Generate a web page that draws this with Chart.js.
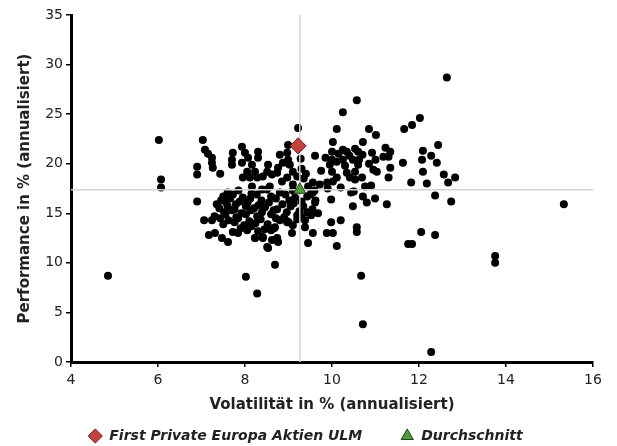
<!DOCTYPE html>
<html>
<head>
<meta charset="utf-8">
<script src="https://cdn.jsdelivr.net/npm/chart.js@4/dist/chart.umd.min.js"></script>
<style>
html, body { margin: 0; padding: 0; background: #fff; }
#wrap { width: 617px; height: 446px; }
</style>
</head>
<body>
<div id="wrap"><canvas id="scatterChart"></canvas></div>
<script>
var xTitle = 'Volatilität in % (annualisiert)';
var yTitle = 'Performance in % (annualisiert)';
var fundName = 'First Private Europa Aktien ULM';
var avgName = 'Durchschnitt';

// volatility / performance of the peer funds
var peerX = [
	4.85, 6.02, 6.07, 6.07, 6.9, 6.9, 6.9, 7.03, 7.08, 7.15, 7.24, 7.24, 7.26, 7.43,
	7.06, 7.24, 7.43, 7.17, 7.31, 7.47, 7.61, 7.72, 7.84, 8.05, 8.23, 8.41, 8.51, 8.69, 8.76, 8.97, 9.08, 9.38, 9.45,
	8.02, 8.28, 8.69,
	9.56, 9.88, 10.02, 9.98, 10.2, 10.11, 10.57, 10.67, 10.71, 11.75, 11.84, 12.05, 12.37, 12.28, 13.75, 13.75,
	12.64, 10.57, 10.25, 11.66, 11.84, 12.02, 10.11, 10.85, 11.01, 12.44, 10.02, 10.71, 12.09, 12.28, 12.41, 11.63,
	12.07, 12.09, 12.57, 12.83, 12.67, 12.18, 11.82, 12.37, 12.74, 15.33, 9.61,
	10.0, 10.0, 10.25, 10.34, 10.53, 10.6, 10.62, 10.48, 10.25, 10.11,
	10.92, 11.0, 11.23, 11.34, 11.3, 11.18, 10.95, 11.03, 11.34, 11.3,
	9.95, 10.0, 10.11, 10.34, 10.41, 10.53, 10.53, 10.69, 10.76,
	10.02, 9.89, 9.72, 9.56, 9.45, 9.56, 9.61, 9.43, 9.34, 9.43, 9.38,
	10.44, 9.98, 10.48, 10.71, 10.8, 10.99, 11.26, 10.57,
	9.85, 10.15, 10.4, 10.7, 10.3, 10.6, 10.85, 9.75, 9.9, 10.2, 10.5, 10.9,
	7.93, 7.72, 8.0, 7.7, 8.07, 8.3, 8.3, 7.7, 7.93, 8.16, 8.23, 8.53, 8.8, 8.97, 8.99, 8.87, 9.03,
	8.76, 8.74, 8.62, 8.51, 8.41, 8.05, 7.95, 8.11, 8.28, 9.1, 9.2, 8.97, 8.85, 9.1, 8.57, 8.39, 8.16,
	7.6, 7.85, 8.15, 8.5, 8.8, 9.1,
	7.5, 7.72, 7.95, 8.27, 8.6, 8.93, 9.15,
	7.45, 7.66, 7.88, 8.12, 8.38, 8.71, 9.02,
	7.35, 7.57, 7.79, 8.06, 8.31, 8.55, 8.86, 9.12,
	7.41, 7.6, 7.76, 8.02, 8.21, 8.46, 8.74, 9.05,
	7.52, 7.7, 7.92, 8.14, 8.39, 8.66, 8.96,
	7.3, 7.55, 7.8, 8.02, 8.28, 8.6, 8.9, 9.2,
	7.62, 7.84, 8.1, 8.36, 8.8,
	7.5, 7.76, 7.98, 8.24, 8.52, 9.0,
	7.9, 8.15, 8.45, 8.3, 8.6,
	9.3, 9.35, 9.3, 9.25, 9.3, 9.4, 9.1, 9.2,
	8.71, 8.67, 8.97, 8.53, 8.23, 8.41, 8.62, 8.74,
	9.5, 9.62, 9.55, 9.68, 9.52, 9.6, 9.28, 9.0, 8.99, 9.22
];
var peerY = [
	8.7, 22.4, 18.4, 17.6, 19.7, 18.9, 16.2, 22.4, 21.4, 21.0, 20.6, 20.1, 19.6, 19.0,
	14.3, 14.3, 14.5, 12.8, 13.0, 12.5, 12.1, 13.1, 13.0, 13.3, 12.5, 12.5, 11.6, 13.6, 12.1, 14.1, 13.0, 13.6, 12.0,
	8.6, 6.9, 9.8,
	13.0, 13.0, 13.0, 14.1, 14.3, 11.7, 13.1, 8.7, 3.8, 11.9, 11.9, 13.1, 12.8, 1.0, 10.7, 10.0,
	28.7, 26.4, 25.2, 23.5, 23.9, 24.6, 23.5, 23.5, 22.9, 21.9, 22.2, 22.2, 21.3, 20.8, 20.1, 20.1,
	20.4, 19.2, 18.9, 18.6, 18.1, 18.0, 18.1, 16.8, 16.2, 15.9, 20.8,
	21.2, 20.4, 21.4, 21.2, 21.5, 21.2, 20.4, 20.4, 20.4, 20.2,
	21.1, 20.4, 21.6, 21.2, 20.7, 20.7, 19.4, 19.2, 19.6, 18.6,
	19.9, 19.2, 18.6, 19.1, 18.6, 19.2, 18.4, 18.6, 17.7,
	18.2, 18.1, 17.9, 18.1, 17.7, 17.1, 16.1, 16.7, 15.7, 15.1, 14.3,
	17.1, 16.4, 15.7, 16.7, 16.1, 16.5, 15.9, 13.6,
	20.6, 21.0, 20.8, 20.9, 19.8, 19.9, 20.0, 19.3, 17.5, 17.6, 17.2, 17.8,
	21.7, 21.1, 21.1, 20.4, 20.6, 21.2, 20.6, 19.9, 20.1, 19.9, 19.2, 19.9, 20.9, 21.1, 20.4, 20.1, 19.9,
	19.6, 19.1, 18.9, 19.2, 18.7, 19.2, 18.6, 18.6, 18.6, 19.2, 18.7, 18.6, 18.2, 17.9, 17.7, 17.4, 17.7,
	17.1, 17.3, 17.0, 17.4, 17.1, 17.3,
	16.7, 16.9, 16.6, 16.9, 16.7, 16.9, 16.6,
	16.3, 16.5, 16.2, 16.5, 16.3, 16.5, 16.3,
	15.9, 16.1, 15.9, 16.1, 15.8, 16.1, 15.9, 16.0,
	15.5, 15.7, 15.4, 15.7, 15.5, 15.6, 15.4, 15.7,
	15.1, 15.3, 15.0, 15.3, 15.1, 15.3, 15.1,
	14.7, 14.9, 14.6, 14.9, 14.7, 14.9, 14.6, 14.8,
	14.3, 14.5, 14.2, 14.4, 14.3,
	13.9, 14.1, 13.8, 14.0, 13.9, 14.1,
	13.5, 13.7, 13.4, 13.2, 13.3,
	19.5, 18.5, 16.2, 15.2, 14.6, 19.0, 13.8, 14.4,
	14.5, 13.5, 14.2, 11.5, 12.5, 12.6, 12.3, 12.5,
	16.9, 16.3, 15.4, 15.0, 14.8, 17.3, 20.5, 20.0, 21.9, 23.6
];

var fundX = [9.22];
var fundY = [21.8];
var avgX = [9.26];
var avgY = [17.37];

var xMin = 4, xMax = 16, xStep = 2;
var yMin = 0, yMax = 35, yStep = 5;

function toPoints(xs, ys) {
	var pts = [];
	for (var i = 0; i < xs.length; i++) {
		pts.push({x: xs[i], y: ys[i]});
	}
	return pts;
}

var tickFont = {family: 'DejaVu Sans', size: 14};
var titleFont = {family: 'DejaVu Sans', size: 15, weight: 'bold'};

// move the legend a little to the right, it is centred on the whole page in the original
var legendShift = {
	id: 'legendShift',
	afterLayout: function(chart) {
		chart.legend.left += 9;
		chart.legend.right += 9;
	}
};

var ctx = document.getElementById('scatterChart').getContext('2d');

var scatterChart = new Chart(ctx, {
	type: 'scatter',
	data: {
		datasets: [
			{
				label: fundName,
				data: toPoints(fundX, fundY),
				pointStyle: 'rectRot',
				pointRadius: 8,
				pointHoverRadius: 8,
				backgroundColor: '#c4423e',
				borderColor: '#6e1a18',
				borderWidth: 1,
				order: 0
			},
			{
				label: avgName,
				data: toPoints(avgX, avgY),
				pointStyle: 'triangle',
				pointRadius: 7,
				pointHoverRadius: 7,
				backgroundColor: '#4f9a3c',
				borderColor: '#1e4417',
				borderWidth: 1,
				order: 1
			},
			{
				label: 'hline',
				type: 'line',
				data: toPoints([xMin, xMax], [avgY[0], avgY[0]]),
				borderColor: '#d4d4d4',
				borderWidth: 1.5,
				pointRadius: 0,
				order: 2
			},
			{
				label: 'vline',
				type: 'line',
				data: toPoints([avgX[0], avgX[0]], [yMin, yMax]),
				borderColor: '#d4d4d4',
				borderWidth: 1.5,
				pointRadius: 0,
				order: 2
			},
			{
				label: 'peers',
				data: toPoints(peerX, peerY),
				pointRadius: 4,
				pointHoverRadius: 4,
				backgroundColor: '#000',
				borderWidth: 0,
				order: 3
			}
		]
	},
	options: {
		responsive: true,
		maintainAspectRatio: false,
		animation: false,
		layout: {padding: {left: 0, right: 24, top: 15, bottom: -7}},
		plugins: {
			tooltip: {enabled: false},
			legend: {
				position: 'bottom',
				labels: {
					usePointStyle: true,
					boxWidth: 14,
					boxHeight: 10,
					padding: 10,
					color: '#222',
					font: {family: 'DejaVu Sans', size: 14, weight: 'bold', style: 'italic'},
					filter: function(item) {
						return item.text.indexOf(fundName) === 0 || item.text === avgName;
					},
					generateLabels: function(chart) {
						var items = Chart.defaults.plugins.legend.labels.generateLabels(chart);
						items.forEach(function(item) {
							// a bit more room after the fund name, as in the original legend
							if (item.text === fundName) item.text = fundName + '\u2003\u2003';
						});
						return items;
					}
				}
			}
		},
		scales: {
			x: {
				type: 'linear',
				min: xMin,
				max: xMax,
				ticks: {stepSize: xStep, color: '#222', font: tickFont, padding: 5},
				grid: {display: true, drawOnChartArea: false, color: '#000', tickLength: 5, lineWidth: 1.5},
				border: {display: true, color: '#000', width: 3},
				title: {display: true, text: xTitle, color: '#222', font: titleFont, padding: {top: 4, bottom: 5}},
				afterFit: function(scale) { scale.height = 57; }
			},
			y: {
				type: 'linear',
				min: yMin,
				max: yMax,
				ticks: {stepSize: yStep, color: '#222', font: tickFont, padding: 3},
				grid: {display: true, drawOnChartArea: false, color: '#000', tickLength: 5, lineWidth: 1.5},
				border: {display: true, color: '#000', width: 3},
				title: {display: true, text: yTitle, color: '#222', font: titleFont, padding: {top: 16, bottom: 4}},
				afterFit: function(scale) { scale.width = 71; }
			}
		}
	},
	plugins: [legendShift]
});
</script>
</body>
</html>
